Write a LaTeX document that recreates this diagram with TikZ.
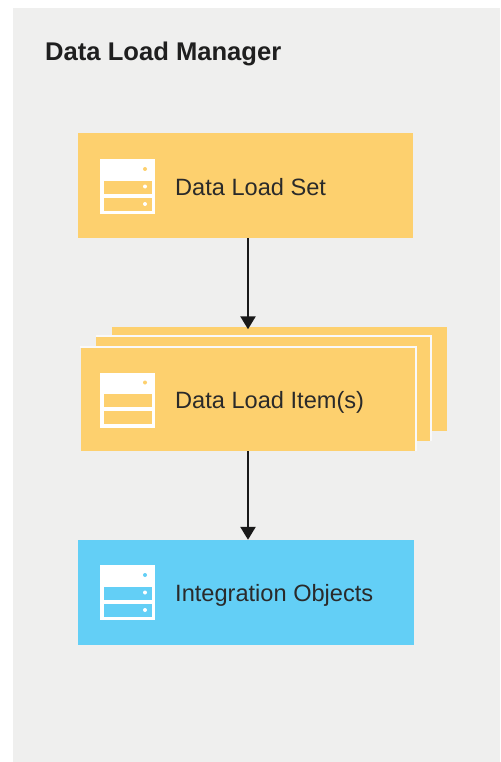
\documentclass[tikz,border=0pt]{standalone}
\usepackage{fontspec}
\setmainfont{Liberation Sans}
\usetikzlibrary{arrows.meta}
\definecolor{panelgrey}{HTML}{EFEFEE}
\definecolor{loadyellow}{HTML}{FDD06E}
\definecolor{objblue}{HTML}{63CFF6}
\definecolor{inktext}{HTML}{2A2A2A}
\tikzset{
  panel/.style={fill=panelgrey,draw=none},
  card/.style={draw=none,inner sep=0pt,minimum width=335pt,minimum height=104pt},
  stackcard/.style={card,fill=loadyellow},
  cardedge/.style={draw=panelgrey!35!white,line width=2pt},
  cardlabel/.style={anchor=base west,inner sep=0pt,text=inktext,font=\fontsize{23.6}{26}\selectfont},
  titlelabel/.style={anchor=base west,inner sep=0pt,text=black!88,font=\fontsize{25.6}{28}\selectfont\bfseries},
  flow/.style={line width=2.4pt,black!90,-{Triangle[length=13pt,width=15pt]}},
}
% #1 x of icon centre, #2 top y, #3 colour, #4 draw lower dots (1/0)
\newcommand{\servericon}[4]{%
  \fill[white] (#1-27.5,#2) rectangle (#1+27.5,#2+55);
  \fill[#3] (#1-23.5,#2+21.5) rectangle (#1+24,#2+34.5);
  \fill[#3] (#1-23.5,#2+38.5) rectangle (#1+24,#2+51.5);
  \fill[#3] (#1+17.5,#2+10) circle (2pt);
  \ifnum#4=1
    \fill[white] (#1+17.5,#2+27.5) circle (2pt);
    \fill[white] (#1+17.5,#2+45) circle (2pt);
  \fi
}
\begin{document}
\begin{tikzpicture}[x=1pt,y=-1pt]
\useasboundingbox (0,0) rectangle (500,762);
\fill[panel] (13,8) rectangle (500,762);
\node[titlelabel] (title) at (45,61) {Data Load Manager};
\node[card,fill=loadyellow,minimum width=335pt,minimum height=105pt] (set) at (245.5,185.5) {};
\node[stackcard] (back) at (279.5,378.5) {};
\node[stackcard] (mid) at (263.5,388.5) {};
\draw[cardedge] (mid.south east) -- (mid.north east) -- (mid.north west);
\node[stackcard] (item) at (248,399) {};
\draw[cardedge] (item.south east) -- (item.north east) -- (item.north west);
\node[card,fill=objblue,minimum width=336.5pt,minimum height=105pt] (obj) at (245.75,592.5) {};
\servericon{127.5}{159}{loadyellow}{1}
\servericon{127.5}{372.5}{loadyellow}{0}
\servericon{127.5}{565}{objblue}{1}
\node[cardlabel] (setlabel) at (175,195) {Data Load Set};
\node[cardlabel] (itemlabel) at (175,408.5) {Data Load Item(s)};
\node[cardlabel] (objlabel) at (175,601.5) {Integration Objects};
\coordinate (axis) at (248,0);
\draw[flow] (axis |- set.south) -- ([yshift=-3pt]axis |- back.north);
\draw[flow] (axis |- item.south) -- (axis |- obj.north);
\end{tikzpicture}
\end{document}
